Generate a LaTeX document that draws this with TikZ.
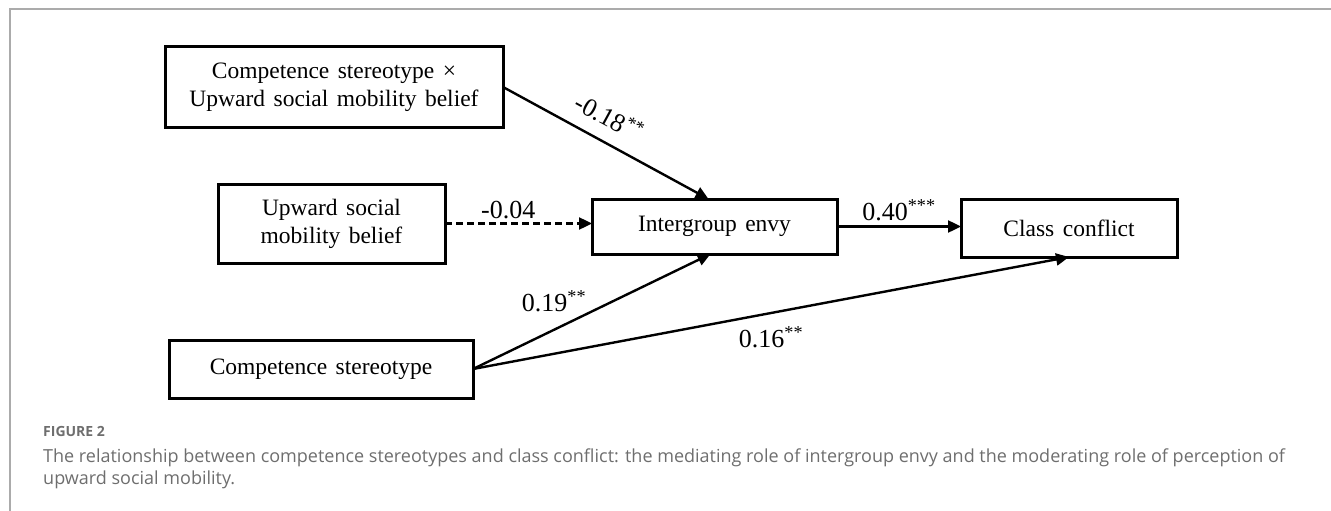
\documentclass[tikz,border=0pt]{standalone}
\usepackage{fontspec}
\setmainfont{Liberation Serif}
\newfontfamily\capfont{Open Sans}
\usetikzlibrary{arrows.meta,
                positioning}
\definecolor{capgray}{HTML}{6E6E6E}
\definecolor{framegray}{HTML}{ABABAB}
\newcommand\widespace{\spaceskip=0.36em\relax}

\begin{document}
\begin{tikzpicture}[
x=1pt, y=-1pt,
    var/.style = {rectangle, draw, line width=3pt, align=center,
                  inner sep=0pt, outer sep=0pt,
                  font=\fontsize{23.5}{28}\selectfont\widespace},
   path/.style = {line width=2.4pt, -{Triangle[length=13pt,width=12pt]}},
   coef/.style = {inner sep=0pt, font=\fontsize{26}{28}\selectfont},
captext/.style = {anchor=base west, inner sep=0pt, text=capgray,
                  font=\capfont\fontsize{18}{22}\selectfont},
                    ]
\useasboundingbox (0,0) rectangle (1331,511);
% panel frame
\draw[framegray, line width=1.5pt] (10,511) |- (1331,9);

\node[var, minimum width=338pt, minimum height=80pt] (CxU) at (334,87)
    {Competence stereotype ×\\ Upward social mobility belief};
\node[var, minimum width=227pt, minimum height=79pt] (USM) at (331.5,223.5)
    {Upward social\\ mobility belief};
\node[var, minimum width=245pt, minimum height=55pt] (envy) at (714.5,226.5)
    {Intergroup envy};
\node[var, minimum width=216pt, minimum height=58pt] (conflict) at (1069,228)
    {Class conflict};
\node[var, minimum width=304pt, minimum height=58pt] (CS) at (321,369)
    {Competence stereotype};

\draw[path] (CxU.east) -- ([xshift=-6pt]envy.north)
    node[coef, sloped, pos=0.46, above=13pt] {-0.18\textsuperscript{**}};
\draw[path, dash pattern=on 7pt off 4pt] (USM.east) -- (USM.east -| envy.west)
    node[coef, pos=0.43, above=3pt] {-0.04};
\draw[path] (envy.east) -- (envy.east -| conflict.west)
    node[coef, midway, above=4pt] {0.40\textsuperscript{***}};
\draw[path] (CS.east) -- ([xshift=-4pt]envy.south)
    node[coef, pos=0.49, anchor=south east, xshift=-2pt] {0.19\textsuperscript{**}};
\draw[path] (CS.east) -- (conflict.south)
    node[coef, midway, below=12pt] {0.16\textsuperscript{**}};

\node[captext, font=\capfont\bfseries\fontsize{14}{16}\selectfont] (fig) at (43,436) {FIGURE 2};
\node[captext] (caption) at (43,462)
    {The relationship between competence stereotypes and class conflict: the mediating role of intergroup envy and the moderating role of perception of};
\node[captext] (caption-2) at (43,484) {upward social mobility.};
\end{tikzpicture}
\end{document}
